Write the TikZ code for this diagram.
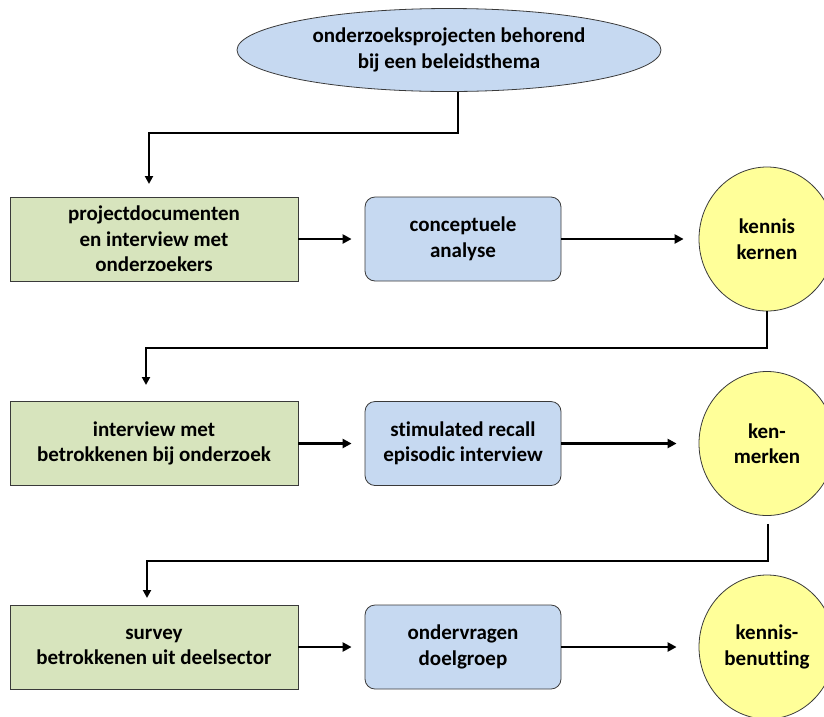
\documentclass[tikz,border=0pt]{standalone}
\usepackage{fontspec}
\setmainfont{Carlito}[Ligatures={NoCommon}]
\usetikzlibrary{shapes.geometric,arrows.meta}
\definecolor{boxgreen}{HTML}{D7E4BD}
\definecolor{boxblue}{HTML}{C6D9F1}
\definecolor{circyellow}{HTML}{FFFF99}
\definecolor{edge}{HTML}{3A3A3A}
\begin{document}
\begin{tikzpicture}[x=1pt,y=-1pt,
  every node/.style={font=\fontsize{21}{25.5}\selectfont\bfseries, align=center, inner sep=0pt},
  greenbox/.style={draw=edge, line width=0.8pt, fill=boxgreen, minimum width=288pt, minimum height=84pt},
  bluebox/.style={draw=edge, line width=0.8pt, fill=boxblue, rounded corners=10pt, minimum width=196pt, minimum height=84pt},
  yellowov/.style={ellipse, draw=edge, line width=0.8pt, fill=circyellow, minimum width=136pt, minimum height=144pt},
  topov/.style={ellipse, draw=edge, line width=0.8pt, fill=boxblue, minimum width=424pt, minimum height=83pt},
  flow/.style={line width=2.8pt, -{Triangle[length=9pt,width=9pt]}},
  elbow/.style={line width=2.8pt, -{Triangle[length=8pt,width=8pt]}}
]
\useasboundingbox (0,0) rectangle (824,716);
\clip (0,0) rectangle (824,716);

\node[topov] (top) at (449,50) {onderzoeksprojecten behorend\\bij een beleidsthema};

\node[greenbox] (g1) at (154,239) {projectdocumenten\\en interview met\\onderzoekers};
\node[bluebox] (b1) at (463,239) {conceptuele\\analyse};
\node[yellowov] (k1) at (767,239) {kennis\\kernen};

\node[greenbox] (g2) at (154,443.5) {interview met\\betrokkenen bij onderzoek};
\node[bluebox] (b2) at (463,443.5) {stimulated recall\\episodic interview};
\node[yellowov] (k2) at (767,443.5) {ken-\\merken};

\node[greenbox] (g3) at (154,647) {survey\\betrokkenen uit deelsector};
\node[bluebox] (b3) at (463,647) {ondervragen\\doelgroep};
\node[yellowov] (k3) at (767,647) {kennis-\\benutting};

\coordinate (t1) at (149,184);
\coordinate (t2) at (146,385);
\coordinate (t3) at (147,598);

\draw[elbow] ([xshift=9pt]top.south) |- (149,133) -- (t1);
\draw[elbow] (k1.south) |- (146,348) -- (t2);
\draw[elbow] ([yshift=-8pt,xshift=1pt]k2.south) |- (147,561) -- (t3);

\draw[flow, shorten >=13pt] (g1.east) -- (b1.west);
\draw[flow, shorten >=15pt] (b1.east) -- (k1.west);
\draw[flow, shorten >=13pt] (g2.east) -- (b2.west);
\draw[flow, shorten >=22pt] (b2.east) -- (k2.west);
\draw[flow, shorten >=13pt] (g3.east) -- (b3.west);
\draw[flow, shorten >=22pt] (b3.east) -- (k3.west);
\end{tikzpicture}
\end{document}
